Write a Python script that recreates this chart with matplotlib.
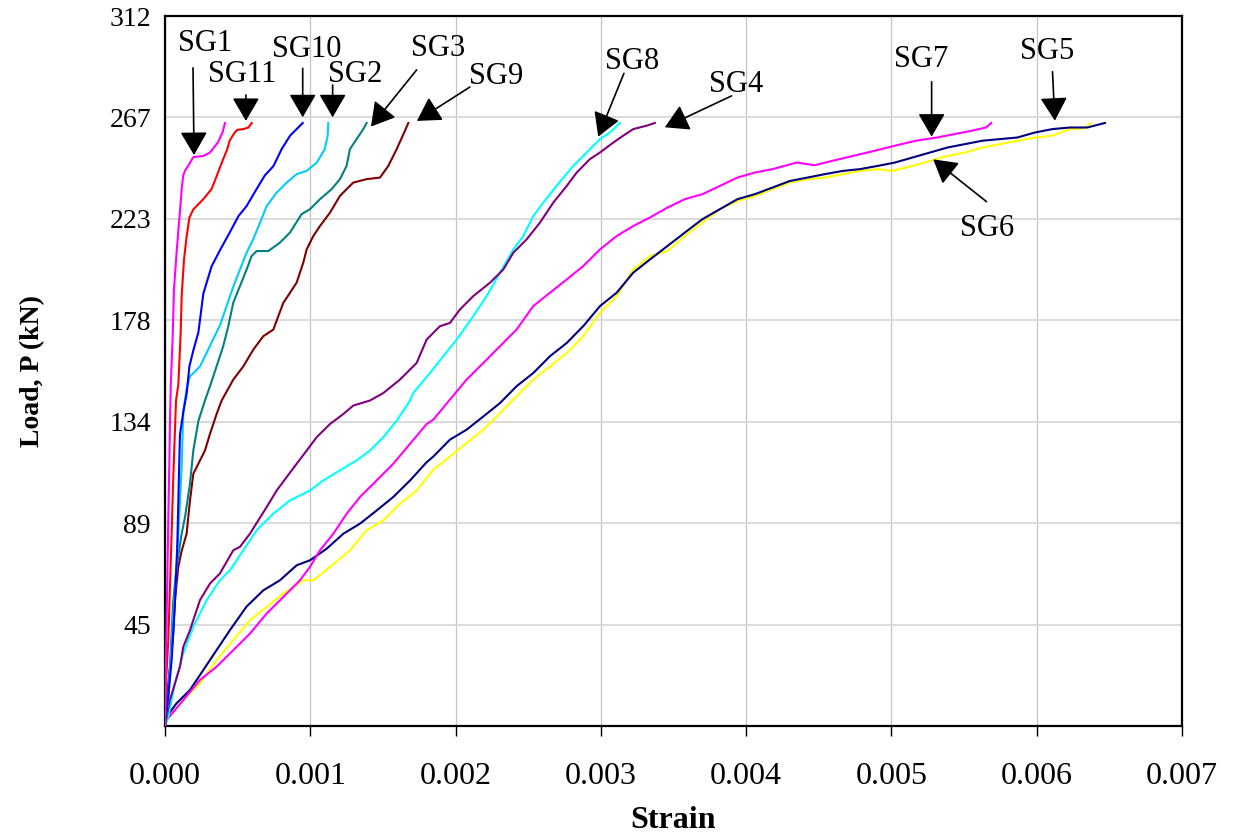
import matplotlib
matplotlib.use("Agg")
import matplotlib.pyplot as plt
import numpy as np
from matplotlib.ticker import FormatStrFormatter

plt.rcParams['font.family'] = ['Liberation Serif', 'DejaVu Serif']

# strain values are given in units of 1e-3, load in kN
sg1_strain = [0, 0.005, 0.012, 0.020, 0.024, 0.030, 0.034, 0.040, 0.053, 0.062, 0.080, 0.095, 0.103,
              0.115, 0.126, 0.138, 0.168, 0.195, 0.264, 0.310, 0.365, 0.397, 0.413]
sg1_load = [0, 20, 50, 80, 95, 115, 132, 150, 171, 192, 208, 220, 226,
            236, 242, 244, 247, 250, 250.5, 252, 256.5, 261, 265]

sg11_strain = [0, 0.007, 0.023, 0.046, 0.057, 0.076, 0.092, 0.108, 0.115, 0.131, 0.149, 0.168, 0.195,
               0.264, 0.321, 0.356, 0.400, 0.429, 0.445, 0.480, 0.499, 0.540, 0.574, 0.597]
sg11_load = [0, 19, 38, 85, 109, 143, 150, 172.7, 189, 205, 215, 223.4, 227,
             231.5, 236, 241.7, 249, 253.5, 257.2, 260.8, 262, 262.3, 263, 265]

sg10_strain = [0, 0.015, 0.046, 0.069, 0.085, 0.092, 0.103, 0.126, 0.149, 0.168, 0.195, 0.230, 0.264,
               0.321, 0.378, 0.447, 0.505, 0.562, 0.631, 0.688, 0.746, 0.803, 0.861, 0.906, 0.948]
sg10_load = [0, 8, 29, 55, 80, 99, 128, 138, 146, 158, 165, 173, 190,
             202, 209, 217, 224, 228.5, 236, 242, 246, 253.5, 259.4, 262.3, 265]

sg2_strain = [0, 0.023, 0.057, 0.080, 0.098, 0.115, 0.126, 0.149, 0.172, 0.195, 0.241, 0.287, 0.332,
              0.378, 0.424, 0.470, 0.516, 0.562, 0.608, 0.666, 0.700, 0.769, 0.838, 0.907, 0.976,
              1.045, 1.100, 1.120, 1.124]
sg2_load = [0, 11, 48, 70, 92, 114, 138, 148, 153.7, 155, 158, 164, 170,
            176, 184.5, 193, 200.6, 208, 214, 223, 228.5, 234.4, 238.8, 242.5, 244,
            247.6, 253.5, 259.4, 265]

sg3_strain = [0, 0.011, 0.034, 0.057, 0.080, 0.115, 0.138, 0.172, 0.195, 0.230, 0.275, 0.310, 0.355,
              0.401, 0.436, 0.470, 0.516, 0.562, 0.596, 0.631, 0.711, 0.791, 0.860, 0.940, 0.998,
              1.067, 1.147, 1.204, 1.250, 1.273, 1.365, 1.388]
sg3_load = [0, 4, 26, 55, 70, 84.5, 91.8, 106.4, 121, 134, 143, 149.3, 158,
            166.9, 175.7, 186, 193.3, 200.6, 206.5, 208.7, 208.7, 212.4, 216.8, 224.9, 227.1,
            231.5, 235.9, 240.3, 246.1, 253.5, 262.3, 265]

sg9_strain = [0, 0.023, 0.057, 0.069, 0.080, 0.092, 0.115, 0.149, 0.172, 0.195, 0.275, 0.310, 0.356,
              0.390, 0.470, 0.539, 0.608, 0.677, 0.746, 0.780, 0.815, 0.861, 0.906, 0.952, 0.975,
              1.021, 1.067, 1.136, 1.204, 1.250, 1.296, 1.388, 1.480, 1.537, 1.595, 1.652, 1.675]
sg9_load = [0, 18.7, 40.6, 55.3, 62.6, 70, 77, 84.5, 99, 110.8, 121, 128.4, 137.2,
            143, 152.2, 158, 165.4, 171.3, 174.2, 180.1, 186, 190.4, 194.8, 203.6, 209.4,
            215.3, 219.7, 225.6, 232.9, 235.9, 238.8, 240.3, 241, 246.1, 253.5, 261.6, 265]

sg8_strain = [0, 0.023, 0.069, 0.126, 0.195, 0.287, 0.378, 0.447, 0.539, 0.631, 0.746, 0.860, 0.998,
              1.090, 1.204, 1.319, 1.410, 1.503, 1.595, 1.687, 1.709, 1.824, 1.916, 2.008, 2.122,
              2.214, 2.306, 2.398, 2.466, 2.535, 2.604, 2.695, 2.810, 2.902, 2.994, 3.063, 3.131]
sg8_load = [0, 4, 18.7, 31.9, 43.6, 55.3, 64, 68.4, 77.2, 86, 93.3, 99.1, 103.5,
            107.9, 112.3, 116.7, 121, 126.9, 134.2, 143, 146.3, 155.1, 162.5, 169.8, 180.1,
            188.9, 199.2, 209.4, 215.3, 224.1, 230, 237.3, 246.1, 252, 257.9, 260.8, 265]

sg4_strain = [0, 0.011, 0.034, 0.103, 0.126, 0.172, 0.195, 0.241, 0.310, 0.378, 0.470, 0.516, 0.585,
              0.700, 0.769, 0.838, 0.906, 0.975, 1.044, 1.136, 1.228, 1.296, 1.410, 1.503, 1.617,
              1.732, 1.801, 1.893, 1.961, 2.030, 2.122, 2.237, 2.329, 2.398, 2.489, 2.581, 2.673,
              2.765, 2.834, 2.925, 2.994, 3.086, 3.154, 3.223, 3.315, 3.372]
sg4_load = [0, 4, 11.4, 26, 34.8, 42, 46.5, 55.3, 62.6, 67, 77.2, 78.7, 84.5,
            96.2, 103.5, 109.4, 115.2, 121, 126.9, 132.7, 137.1, 140.8, 143, 146.3, 152.2,
            159.5, 169.8, 175.7, 177.1, 183, 188.9, 194.8, 200.6, 208, 213.8, 221.2, 230,
            237.3, 243.2, 249.1, 252, 256.4, 259.4, 262.3, 263.8, 265]

sg7_strain = [0, 0.011, 0.126, 0.241, 0.355, 0.470, 0.585, 0.700, 0.815, 0.929, 0.998, 1.067, 1.159,
              1.251, 1.342, 1.457, 1.571, 1.687, 1.801, 1.847, 1.961, 2.076, 2.191, 2.306, 2.420,
              2.535, 2.650, 2.765, 2.879, 2.994, 3.109, 3.223, 3.337, 3.458, 3.578, 3.699, 3.819,
              3.940, 4.060, 4.181, 4.349, 4.470, 4.590, 4.735, 4.880, 5.024, 5.169, 5.313, 5.434,
              5.554, 5.651, 5.687]
sg7_load = [0, 2.6, 11.4, 20.2, 26, 33.3, 40.6, 49.4, 56.7, 64, 69.9, 77.2, 84.5,
            93.3, 100.6, 107.9, 115.2, 124, 132.7, 134.6, 143.4, 152.2, 159.5, 166.9, 174.2,
            184.5, 190.4, 196.2, 202.1, 209.4, 215.3, 219.7, 223.4, 227.8, 231.5, 233.7, 237.3,
            241, 243.2, 244.7, 247.6, 246.4, 248.3, 250.5, 252.7, 255, 257.2, 258.6, 260.1,
            261.6, 263, 265]

sg5_strain = [0, 0.011, 0.080, 0.172, 0.264, 0.355, 0.447, 0.562, 0.677, 0.791, 0.906, 0.998, 1.113,
              1.228, 1.342, 1.457, 1.571, 1.687, 1.801, 1.847, 1.961, 2.076, 2.191, 2.306, 2.420,
              2.535, 2.650, 2.765, 2.879, 2.994, 3.109, 3.223, 3.338, 3.458, 3.578, 3.699, 3.819,
              3.940, 4.060, 4.181, 4.301, 4.422, 4.542, 4.663, 4.783, 4.904, 5.024, 5.145, 5.265,
              5.386, 5.506, 5.627, 5.747, 5.867, 5.988, 6.108, 6.229, 6.349, 6.470]
sg5_load = [0, 4, 10, 15.8, 24.6, 33.3, 42.1, 52.5, 59.6, 64, 70.6, 72.8, 77.9,
            84.5, 88.9, 94.7, 100.6, 107.9, 115.9, 118.4, 125.8, 130.2, 136, 141.9, 149.3,
            155.1, 162.5, 168.3, 175.7, 184.5, 190.4, 199.2, 205, 210.9, 216.8, 222.7, 227.1,
            231.5, 233.7, 236.6, 239.5, 241, 242.5, 243.9, 244.7, 246.1, 247.6, 249.8, 252,
            254.2, 255.7, 257.2, 257.9, 258.6, 260.8, 262.3, 263, 263, 265]

sg6_strain = [0, 0.011, 0.126, 0.241, 0.355, 0.470, 0.585, 0.700, 0.815, 0.952, 1.021, 1.136, 1.273,
              1.388, 1.503, 1.618, 1.733, 1.847, 1.961, 2.076, 2.191, 2.306, 2.420, 2.535, 2.650,
              2.765, 2.879, 2.994, 3.109, 3.223, 3.338, 3.458, 3.578, 3.699, 3.819, 3.940, 4.060,
              4.181, 4.301, 4.422, 4.542, 4.663, 4.783, 4.904, 5.000, 5.145, 5.265, 5.386, 5.506,
              5.627, 5.747, 5.867, 5.988, 6.108, 6.229, 6.325, 6.373]
sg6_load = [0, 2.6, 11.4, 18.7, 29, 37.7, 46.5, 52.3, 58.2, 64, 64, 69.9, 77.2,
            86, 90.4, 97.7, 103.5, 112.6, 118.4, 124.3, 130.2, 137.5, 144.9, 152.2, 158,
            163.9, 171.3, 181.5, 188.9, 200.6, 206.5, 208.7, 215.3, 221.2, 227.1, 230.7, 232.9,
            235.9, 238.8, 240.3, 241, 242.5, 243.9, 244.7, 243.9, 246.1, 248.3, 250.5, 252,
            254.2, 255.7, 257.2, 258.6, 259.4, 262.3, 262.6, 265]

series = [
    ("SG6", sg6_strain, sg6_load, "#FFFF00"),
    ("SG5", sg5_strain, sg5_load, "#000080"),
    ("SG7", sg7_strain, sg7_load, "#FF00FF"),
    ("SG8", sg8_strain, sg8_load, "#00FFFF"),
    ("SG4", sg4_strain, sg4_load, "#800080"),
    ("SG9", sg9_strain, sg9_load, "#800000"),
    ("SG3", sg3_strain, sg3_load, "#008080"),
    ("SG2", sg2_strain, sg2_load, "#00CCFF"),
    ("SG10", sg10_strain, sg10_load, "#0000FF"),
    ("SG11", sg11_strain, sg11_load, "#FF0000"),
    ("SG1", sg1_strain, sg1_load, "#FF00FF"),
]

# label text position, arrow tail, arrow tip  (strain x1e-3, load kN)
labels = {
    "SG1": ((0.275, 300.1), (0.193, 289.2), (0.200, 250.9)),
    "SG11": ((0.530, 286.5), (0.557, 277.3), (0.557, 265.9)),
    "SG10": ((0.977, 297.5), (0.948, 289.0), (0.948, 267.5)),
    "SG2": ((1.308, 286.5), (1.154, 281.7), (1.154, 267.5)),
    "SG3": ((1.879, 297.9), (1.732, 288.3), (1.418, 263.4)),
    "SG9": ((2.278, 285.2), (2.099, 280.8), (1.734, 265.9)),
    "SG8": ((3.214, 292.2), (3.159, 286.8), (2.982, 259.0)),
    "SG4": ((3.930, 282.1), (3.900, 276.9), (3.441, 263.1)),
    "SG7": ((5.203, 292.7), (5.277, 283.1), (5.277, 259.0)),
    "SG5": ((6.070, 296.6), (6.109, 287.5), (6.125, 266.0)),
    "SG6": ((5.657, 218.4), (5.655, 230.4), (5.288, 249.0)),
}

y_max = 312
y_tick_labels = ['45', '89', '134', '178', '223', '267', '312']

fig = plt.figure(figsize=(12.33, 8.38), dpi=100)
ax = fig.add_axes([0.1338, 0.1337, 0.8248, 0.8472])

for name, xs, ys, col in series:
    ax.plot(np.array(xs) * 1e-3, ys, color=col, lw=1.5, zorder=3)

for name, (txt, tail, tip) in labels.items():
    ax.text(txt[0] * 1e-3, txt[1], name, fontsize=22, ha='center', va='center', zorder=5)
    ax.annotate('', xy=(tip[0] * 1e-3, tip[1]), xytext=(tail[0] * 1e-3, tail[1]),
                arrowprops=dict(arrowstyle='-|>,head_length=0.6,head_width=0.35',
                                mutation_scale=24, color='black', lw=1.2,
                                shrinkA=0, shrinkB=0), zorder=5)

ax.set_xlim(0, 0.007)
ax.set_ylim(0, y_max)
ax.set_xticks(np.arange(0, 0.0071, 0.001))
ax.xaxis.set_major_formatter(FormatStrFormatter('%.3f'))
ax.set_yticks(np.arange(1, 8) * y_max / 7)
ax.set_yticklabels(y_tick_labels)

ax.xaxis.grid(True, color='#c4c4c4', lw=0.9)
ax.yaxis.grid(True, color='#dadada', lw=1.4)
ax.set_axisbelow(True)

for sp in ax.spines.values():
    sp.set_color('black')
    sp.set_linewidth(1.6)

ax.tick_params(axis='x', direction='out', length=7, width=1, labelsize=23, pad=19)
ax.tick_params(axis='y', length=0, labelsize=20, pad=10)

ax.set_xlabel('Strain', fontsize=23, fontweight='bold', labelpad=11)
ax.set_ylabel('Load, P (kN)', fontsize=20, fontweight='bold', labelpad=46)

fig.savefig('out.png', dpi=100)
